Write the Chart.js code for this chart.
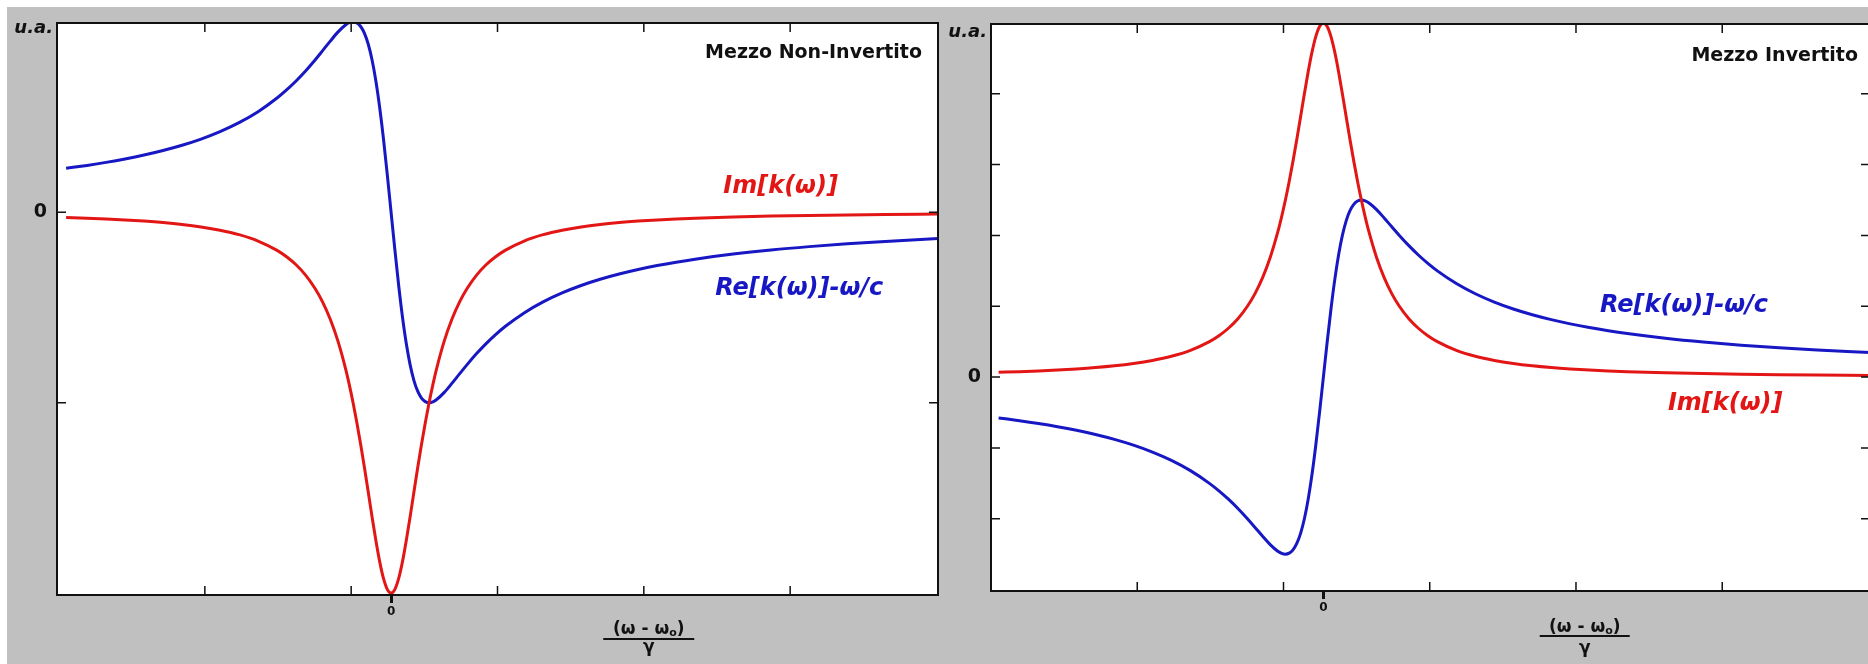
<!DOCTYPE html>
<html>
<head>
<meta charset="utf-8">
<script src="https://cdn.jsdelivr.net/npm/chart.js@4.4.1/dist/chart.umd.min.js"></script>
<style>
  html, body { margin: 0; padding: 0; background: #fff; width: 1868px; height: 664px; overflow: hidden; position: relative; }
  #bg { position: absolute; left: 7px; top: 7px; right: 0; bottom: 0; background: #c0c0c0; }
  .panel { position: absolute; top: 0; height: 664px; width: 960px; }
  #p1 { left: 0; }
  #p2 { left: 940px; }
</style>
</head>
<body>
<div id="bg"></div>
<div class="panel" id="p1"><canvas id="c1" width="960" height="664"></canvas></div>
<div class="panel" id="p2"><canvas id="c2" width="960" height="664"></canvas></div>
<script>
// Detuning (omega - omega0), in units of the line half-width
const detuning = [-8.55, -8, -7.5, -7, -6.5, -6, -5.5, -5, -4.5, -4, -3.5, -3, -2.75, -2.5, -2.25, -2,
  -1.8, -1.6, -1.4, -1.2, -1.1, -1, -0.9, -0.8, -0.7, -0.6, -0.5, -0.4, -0.3, -0.2, -0.1,
  0,
  0.1, 0.2, 0.3, 0.4, 0.5, 0.6, 0.7, 0.8, 0.9, 1, 1.1, 1.2, 1.4, 1.6, 1.8,
  2, 2.25, 2.5, 2.75, 3, 3.5, 4, 4.5, 5, 5.5, 6, 6.5, 7, 7.5, 8,
  9, 10, 11, 12, 13, 14.4];

// Mezzo non-invertito (absorbing medium)
const imNonInvertito = [-0.0135, -0.0154, -0.0175, -0.0200, -0.0231, -0.0270, -0.0320, -0.0385,
  -0.0471, -0.0588, -0.0755, -0.1000, -0.1168, -0.1379, -0.1649, -0.2000,
  -0.2358, -0.2809, -0.3378, -0.4098, -0.4525, -0.5000, -0.5525, -0.6098, -0.6711, -0.7353,
  -0.8000, -0.8621, -0.9174, -0.9615, -0.9901,
  -1.0000,
  -0.9901, -0.9615, -0.9174, -0.8621, -0.8000, -0.7353, -0.6711, -0.6098, -0.5525, -0.5000,
  -0.4525, -0.4098, -0.3378, -0.2809, -0.2358,
  -0.2000, -0.1649, -0.1379, -0.1168, -0.1000, -0.0755, -0.0588, -0.0471, -0.0385, -0.0320,
  -0.0270, -0.0231, -0.0200, -0.0175, -0.0154,
  -0.0122, -0.0099, -0.0082, -0.0069, -0.0059, -0.0048];
const reNonInvertito = [0.1154, 0.1231, 0.1310, 0.1400, 0.1503, 0.1622, 0.1760, 0.1923,
  0.2118, 0.2353, 0.2642, 0.3000, 0.3212, 0.3448, 0.3711, 0.4000,
  0.4245, 0.4494, 0.4730, 0.4918, 0.4977, 0.5000, 0.4972, 0.4878, 0.4698, 0.4412,
  0.4000, 0.3448, 0.2752, 0.1923, 0.0990,
  0,
  -0.0990, -0.1923, -0.2752, -0.3448, -0.4000, -0.4412, -0.4698, -0.4878, -0.4972, -0.5000,
  -0.4977, -0.4918, -0.4730, -0.4494, -0.4245,
  -0.4000, -0.3711, -0.3448, -0.3212, -0.3000, -0.2642, -0.2353, -0.2118, -0.1923, -0.1760,
  -0.1622, -0.1503, -0.1400, -0.1310, -0.1231,
  -0.1098, -0.0990, -0.0902, -0.0828, -0.0765, -0.0691];

// Mezzo invertito (gain medium)
const imInvertito = [0.0135, 0.0154, 0.0175, 0.0200, 0.0231, 0.0270, 0.0320, 0.0385,
  0.0471, 0.0588, 0.0755, 0.1000, 0.1168, 0.1379, 0.1649, 0.2000,
  0.2358, 0.2809, 0.3378, 0.4098, 0.4525, 0.5000, 0.5525, 0.6098, 0.6711, 0.7353,
  0.8000, 0.8621, 0.9174, 0.9615, 0.9901,
  1.0000,
  0.9901, 0.9615, 0.9174, 0.8621, 0.8000, 0.7353, 0.6711, 0.6098, 0.5525, 0.5000,
  0.4525, 0.4098, 0.3378, 0.2809, 0.2358,
  0.2000, 0.1649, 0.1379, 0.1168, 0.1000, 0.0755, 0.0588, 0.0471, 0.0385, 0.0320,
  0.0270, 0.0231, 0.0200, 0.0175, 0.0154,
  0.0122, 0.0099, 0.0082, 0.0069, 0.0059, 0.0048];
const reInvertito = [-0.1154, -0.1231, -0.1310, -0.1400, -0.1503, -0.1622, -0.1760, -0.1923,
  -0.2118, -0.2353, -0.2642, -0.3000, -0.3212, -0.3448, -0.3711, -0.4000,
  -0.4245, -0.4494, -0.4730, -0.4918, -0.4977, -0.5000, -0.4972, -0.4878, -0.4698, -0.4412,
  -0.4000, -0.3448, -0.2752, -0.1923, -0.0990,
  0,
  0.0990, 0.1923, 0.2752, 0.3448, 0.4000, 0.4412, 0.4698, 0.4878, 0.4972, 0.5000,
  0.4977, 0.4918, 0.4730, 0.4494, 0.4245,
  0.4000, 0.3711, 0.3448, 0.3212, 0.3000, 0.2642, 0.2353, 0.2118, 0.1923, 0.1760,
  0.1622, 0.1503, 0.1400, 0.1310, 0.1231,
  0.1098, 0.0990, 0.0902, 0.0828, 0.0765, 0.0691];

// Tick marks along the frame
const xTickValues = [-4.9, -1.05, 2.8, 6.65, 10.5];
const yTicksNonInvertito = [-0.5, 0];
const yTicksInvertito = [-0.4, -0.2, 0, 0.2, 0.4, 0.6, 0.8];

const RED = '#e31616';
const BLUE = '#1717c4';
const INK = '#111';
const FONT = '"DejaVu Sans", Verdana, sans-serif';

// Frame, inward ticks and the texts drawn on each panel
const panelDecor = {
  id: 'panelDecor',
  beforeDraw(chart) {
    const { ctx, chartArea: a } = chart;
    ctx.save();
    ctx.fillStyle = '#fff';
    ctx.fillRect(a.left, a.top, a.right - a.left, a.bottom - a.top);
    ctx.restore();
  },
  afterDatasetsDraw(chart, args, o) {
    const { ctx, chartArea: a, scales: { x, y } } = chart;
    ctx.save();
    ctx.strokeStyle = INK;
    ctx.lineWidth = 1.5;
    ctx.beginPath();
    o.xTicks.forEach(v => {
      const px = x.getPixelForValue(v);
      ctx.moveTo(px, a.top); ctx.lineTo(px, a.top + o.tickLen);
      ctx.moveTo(px, a.bottom); ctx.lineTo(px, a.bottom - o.tickLen);
    });
    o.yTicks.forEach(v => {
      const py = y.getPixelForValue(v);
      ctx.moveTo(a.left, py); ctx.lineTo(a.left + o.tickLen, py);
      ctx.moveTo(a.right, py); ctx.lineTo(a.right - o.tickLen, py);
    });
    ctx.stroke();
    ctx.lineWidth = 2;
    ctx.strokeRect(a.left, a.top, a.right - a.left, a.bottom - a.top);
    ctx.restore();
  },
  afterDraw(chart, args, o) {
    const { ctx, chartArea: a, scales: { x, y } } = chart;
    ctx.save();
    ctx.fillStyle = INK;
    ctx.textBaseline = 'alphabetic';

    // unit label
    ctx.font = 'italic bold 18px ' + FONT;
    ctx.textAlign = 'right';
    ctx.fillText('u.a.', a.left - 4, a.top + o.unitDy);

    // panel title
    ctx.font = 'bold 19px ' + FONT;
    ctx.textAlign = 'right';
    ctx.fillText(o.title, a.right - o.titleInset, a.top + o.titleDy);

    // curve labels
    ctx.font = 'italic bold 24px ' + FONT;
    ctx.textAlign = 'left';
    o.labels.forEach(l => {
      ctx.fillStyle = l.color;
      ctx.fillText(l.text, x.getPixelForValue(l.x), y.getPixelForValue(l.y));
    });

    // axis title: (omega - omega0) / gamma
    const f = o.fraction;
    const cx = x.getPixelForValue(f.x);
    ctx.fillStyle = INK;
    ctx.textAlign = 'left';
    const big = 'bold 17px ' + FONT, small = 'bold 11px ' + FONT;
    ctx.font = big;
    const w1 = ctx.measureText('(ω - ω').width;
    const w3 = ctx.measureText(')').width;
    ctx.font = small;
    const w2 = ctx.measureText('o').width;
    const sx = cx - (w1 + w2 + w3) / 2;
    ctx.font = big;
    ctx.fillText('(ω - ω', sx, f.num);
    ctx.font = small;
    ctx.fillText('o', sx + w1, f.num + 2);
    ctx.font = big;
    ctx.fillText(')', sx + w1 + w2, f.num);
    ctx.lineWidth = 2;
    ctx.strokeStyle = INK;
    ctx.beginPath();
    ctx.moveTo(cx - f.barHalf, f.bar);
    ctx.lineTo(cx + f.barHalf, f.bar);
    ctx.stroke();
    ctx.textAlign = 'center';
    ctx.fillText('γ', cx, f.den);
    ctx.restore();
  }
};

function buildPanel(canvasId, cfg) {
  return new Chart(document.getElementById(canvasId), {
    type: 'line',
    data: {
      datasets: [
        {
          label: 'Im[k(ω)]',
          data: detuning.map((d, i) => ({ x: d, y: cfg.im[i] })),
          borderColor: RED, borderWidth: 3, pointRadius: 0,
          cubicInterpolationMode: 'monotone', fill: false, clip: 0
        },
        {
          label: 'Re[k(ω)]-ω/c',
          data: detuning.map((d, i) => ({ x: d, y: cfg.re[i] })),
          borderColor: BLUE, borderWidth: 3, pointRadius: 0,
          cubicInterpolationMode: 'monotone', fill: false, clip: 0
        }
      ]
    },
    options: {
      responsive: false,
      animation: false,
      devicePixelRatio: 1,
      layout: { padding: cfg.padding },
      plugins: {
        legend: { display: false },
        tooltip: { enabled: false },
        panelDecor: cfg.decor
      },
      scales: {
        x: {
          type: 'linear', min: cfg.xMin, max: cfg.xMax,
          afterFit: s => { s.height = cfg.xAxisHeight; },
          afterBuildTicks: s => { s.ticks = [{ value: 0 }]; },
          grid: { display: true, drawOnChartArea: false, drawTicks: true, tickLength: 8, tickWidth: 3, tickColor: INK },
          border: { display: false },
          ticks: {
            autoSkip: false, maxRotation: 0, padding: 2, color: INK,
            font: { family: FONT, size: 12, weight: 'bold' },
            callback: v => (v === 0 ? '0' : '')
          }
        },
        y: {
          type: 'linear', min: cfg.yMin, max: cfg.yMax,
          afterFit: s => { s.width = cfg.yAxisWidth; },
          afterBuildTicks: s => { s.ticks = [{ value: 0 }]; },
          grid: { display: false, drawTicks: false },
          border: { display: false },
          ticks: {
            padding: 10, color: INK,
            font: { family: FONT, size: 19, weight: 'bold' },
            callback: v => (v === 0 ? '0' : '')
          }
        }
      }
    },
    plugins: [panelDecor]
  });
}

buildPanel('c1', {
  im: imNonInvertito, re: reNonInvertito,
  xMin: -8.79, xMax: 14.39, yMin: -1.005, yMax: 0.497,
  padding: { left: 0, top: 23, right: 22, bottom: 0 },
  yAxisWidth: 57, xAxisHeight: 69,
  decor: {
    xTicks: xTickValues, yTicks: yTicksNonInvertito, tickLen: 9,
    unitDy: 10, title: 'Mezzo Non-Invertito', titleInset: 16, titleDy: 35,
    labels: [
      { text: 'Im[k(ω)]', color: RED, x: 8.74, y: 0.0507 },
      { text: 'Re[k(ω)]-ω/c', color: BLUE, x: 8.53, y: -0.217 }
    ],
    fraction: { x: 6.78, num: 634, bar: 639, den: 652, barHalf: 45.5 }
  }
});

buildPanel('c2', {
  im: imInvertito, re: reInvertito,
  xMin: -8.75, xMax: 14.39, yMin: -0.604, yMax: 0.997,
  padding: { left: 0, top: 24, right: 30, bottom: 0 },
  yAxisWidth: 51, xAxisHeight: 73,
  decor: {
    xTicks: xTickValues, yTicks: yTicksInvertito, tickLen: 9,
    unitDy: 13, title: 'Mezzo Invertito', titleInset: 12, titleDy: 37,
    labels: [
      { text: 'Re[k(ω)]-ω/c', color: BLUE, x: 7.28, y: 0.184 },
      { text: 'Im[k(ω)]', color: RED, x: 9.07, y: -0.093 }
    ],
    fraction: { x: 6.88, num: 632, bar: 636, den: 653, barHalf: 45 }
  }
});
</script>
</body>
</html>
